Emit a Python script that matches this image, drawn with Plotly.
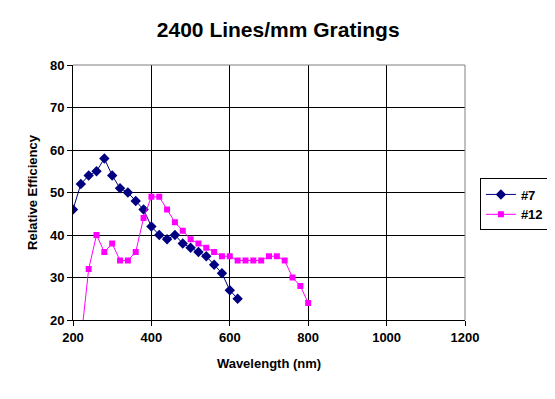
import plotly.graph_objects as go

title_text = "2400 Lines/mm Gratings"
x_title = "Wavelength (nm)"
y_title = "Relative Efficiency"

s7_name = "#7"
s7_x = [200, 220, 240, 260, 280, 300, 320, 340, 360, 380, 400, 420, 440, 460,
        480, 500, 520, 540, 560, 580, 600, 620]
s7_y = [46, 52, 54, 55, 58, 54, 51, 50, 48, 46, 42, 40, 39, 40,
        38, 37, 36, 35, 33, 31, 27, 25]

s12_name = "#12"
s12_x = [220, 240, 260, 280, 300, 320, 340, 360, 380, 400, 420, 440, 460, 480,
         500, 520, 540, 560, 580, 600, 620, 640, 660, 680, 700, 720, 740, 760,
         780, 800]
s12_y = [15, 32, 40, 36, 38, 34, 34, 36, 44, 49, 49, 46, 43, 41,
         39, 38, 37, 36, 35, 35, 34, 34, 34, 34, 35, 35, 34, 30,
         28, 24]

FONT = "Liberation Sans, Arial, sans-serif"

fig = go.Figure()
fig.add_trace(go.Scatter(
    x=s7_x, y=s7_y, name="<b>" + s7_name + "</b>", mode="lines+markers",
    line=dict(color="#000080", width=1),
    marker=dict(symbol="diamond", size=8, color="#000080"),
))
fig.add_trace(go.Scatter(
    x=s12_x, y=s12_y, name="<b>" + s12_name + "</b>", mode="lines+markers",
    line=dict(color="#FF00FF", width=1),
    marker=dict(symbol="square", size=6, color="#FF00FF"),
))

# page body has an 8px margin, so the figure is sized to fill the rest
fig.update_layout(
    width=547, height=391,
    margin=dict(l=65, r=90, t=57, b=79, autoexpand=False),
    paper_bgcolor="white", plot_bgcolor="white",
    font=dict(family=FONT, color="black", size=13),
    title=dict(text="<b>" + title_text + "</b>", x=0.494, xanchor="center",
               y=0.944, yanchor="middle",
               font=dict(family=FONT, size=21, color="black")),
    showlegend=True,
    legend=dict(x=1.214, y=0.555, xanchor="right", yanchor="top",
                bordercolor="black", borderwidth=1, bgcolor="white",
                font=dict(family=FONT, size=13, color="black"),
                itemwidth=30, tracegroupgap=2),
)

fig.update_xaxes(
    range=[200, 1200], dtick=200, tick0=200,
    showgrid=True, gridcolor="black", gridwidth=1,
    showline=True, linecolor="black", linewidth=1,
    ticks="outside", ticklen=5, tickcolor="black",
    tickfont=dict(family=FONT, size=13, color="black"),
    tickprefix="<b>", ticksuffix="</b>",
    title=dict(text="<b>" + x_title + "</b>", standoff=15,
               font=dict(family=FONT, size=13, color="black")),
    zeroline=False, automargin=False,
)
fig.update_yaxes(
    range=[20, 80], dtick=10, tick0=20,
    showgrid=True, gridcolor="black", gridwidth=1,
    showline=True, linecolor="black", linewidth=1,
    ticks="outside", ticklen=5, tickcolor="black",
    tickfont=dict(family=FONT, size=13, color="black"),
    tickprefix="<b>", ticksuffix="</b>",
    title=dict(text="<b>" + y_title + "</b>", standoff=9,
               font=dict(family=FONT, size=13, color="black")),
    zeroline=False, automargin=False,
)

# gray plot-area border on the top and right sides
fig.add_shape(type="line", xref="paper", yref="paper", x0=0, x1=1, y0=1, y1=1,
              line=dict(color="#808080", width=1), layer="above")
fig.add_shape(type="line", xref="paper", yref="paper", x0=1, x1=1, y0=0, y1=1,
              line=dict(color="#808080", width=1), layer="above")

fig.write_html("out.html")
